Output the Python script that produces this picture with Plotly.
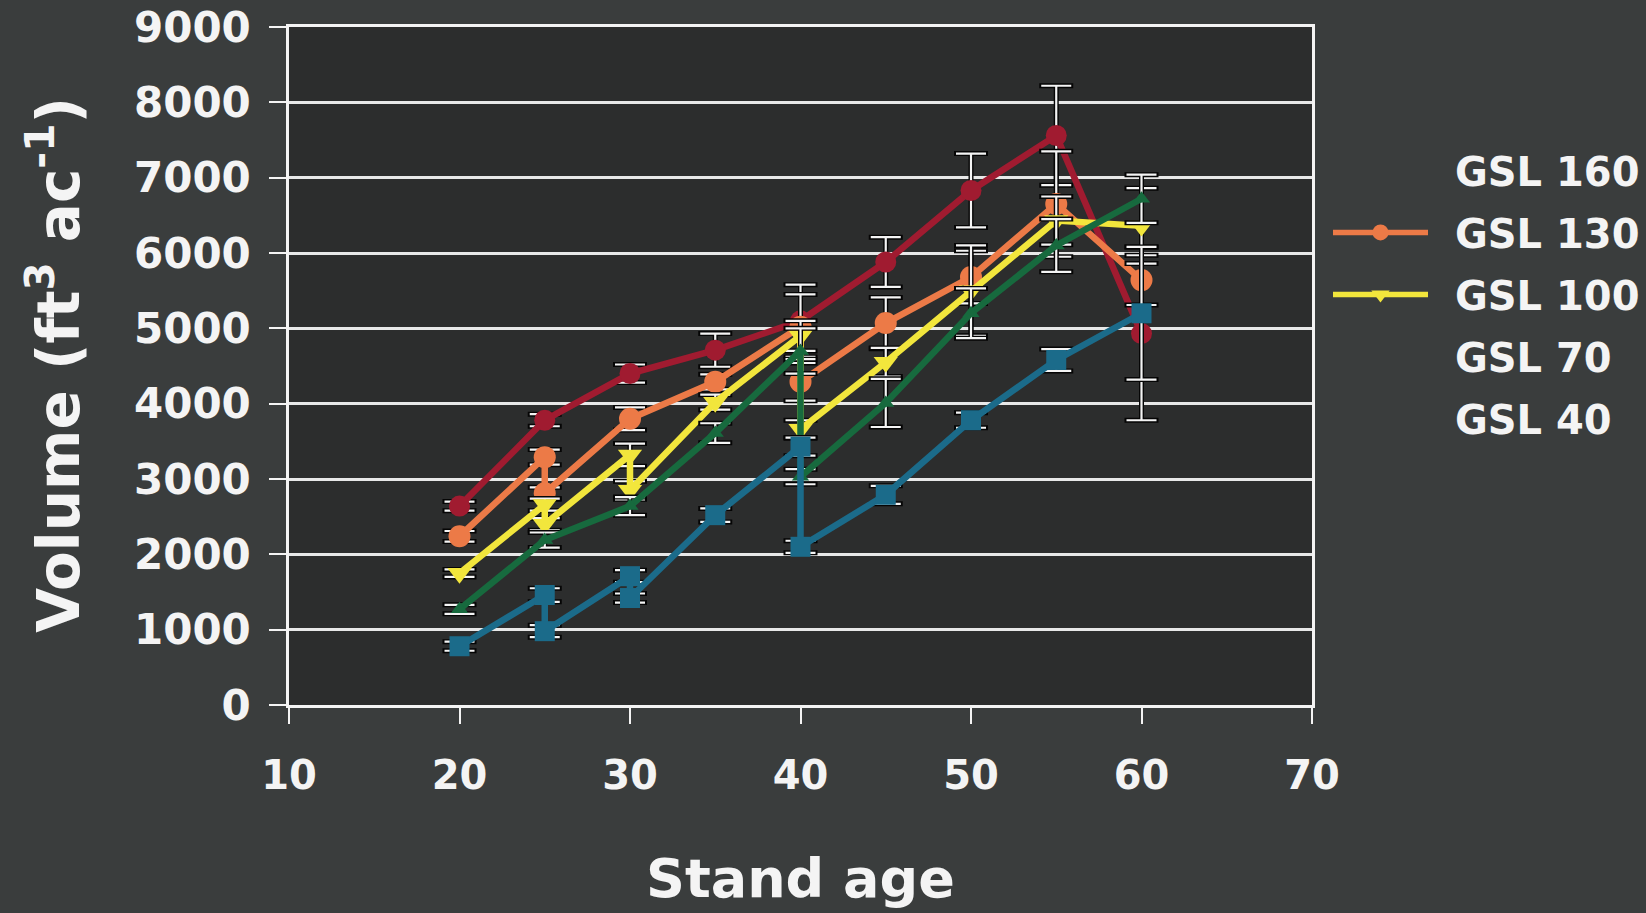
import plotly.graph_objects as go

# ---------------- data ----------------
series_names = ["GSL 160", "GSL 130", "GSL 100", "GSL 70", "GSL 40"]

ages_160 = [20, 25, 30, 35, 40, 45, 50, 55, 60]
vol_160 = [2640, 3780, 4400, 4710, 5100, 5880, 6830, 7560, 4930]
err_160 = [60, 80, 120, 220, 480, 330, 490, 660, 1150]

ages_130 = [20, 25, 25, 30, 35, 40, 40, 45, 50, 55, 60]
vol_130 = [2240, 3290, 2810, 3800, 4290, 5020, 4290, 5070, 5680, 6650, 5640]
err_130 = [70, 100, 80, 150, 100, 430, 250, 340, 350, 700, 330]

ages_100 = [20, 25, 25, 30, 30, 35, 40, 40, 45, 50, 55, 60]
vol_100 = [1750, 2660, 2400, 3320, 2850, 4020, 4900, 3660, 4550, 5500, 6430, 6360]
err_100 = [50, 80, 80, 150, 120, 100, 200, 120, 190, 600, 320, 500]

ages_70 = [20, 25, 30, 35, 40, 40, 45, 50, 55, 60]
vol_70 = [1270, 2190, 2640, 3610, 4700, 3030, 4010, 5200, 6100, 6720]
err_70 = [60, 100, 120, 130, 300, 100, 320, 330, 350, 320]

ages_40 = [20, 25, 25, 30, 30, 35, 40, 40, 45, 50, 55, 60]
vol_40 = [780, 1460, 980, 1710, 1420, 2520, 3430, 2100, 2790, 3780, 4580, 5200]
err_40 = [60, 90, 80, 80, 60, 90, 120, 80, 120, 100, 145, 880]

x_ticks = [10, 20, 30, 40, 50, 60, 70]
y_ticks = [0, 1000, 2000, 3000, 4000, 5000, 6000, 7000, 8000, 9000]

# ---------------- styles ----------------
colors = ["#a01b30", "#ec7a47", "#f2e63c", "#176a3e", "#1b6b8a"]
symbols = ["circle", "circle", "triangle-down", "triangle-up", "square"]
sizes = [21, 22, 21, 15, 20]
legend_symbol_visible = [False, True, True, False, False]

FONT = "DejaVu Sans"
WHITE = "#f4f4f4"

data = [
    (ages_160, vol_160, err_160),
    (ages_130, vol_130, err_130),
    (ages_100, vol_100, err_100),
    (ages_70, vol_70, err_70),
    (ages_40, vol_40, err_40),
]

fig = go.Figure()

for i, (ax, vy, ve) in enumerate(data):
    # dark halo behind the white error bars
    fig.add_trace(go.Scatter(
        x=ax, y=vy, mode="markers",
        marker=dict(color="rgba(0,0,0,0)", size=1),
        error_y=dict(type="data", array=ve, visible=True,
                     color="#050505", thickness=5, width=17),
        showlegend=False, hoverinfo="skip",
    ))
    fig.add_trace(go.Scatter(
        x=ax, y=vy, mode="lines+markers",
        name=series_names[i],
        line=dict(color=colors[i], width=6.5),
        marker=dict(symbol=symbols[i], size=sizes[i], color=colors[i],
                    line=dict(width=0)),
        error_y=dict(type="data", array=ve, visible=True,
                     color=WHITE, thickness=2.2, width=15),
        showlegend=False,
    ))

# legend entries
for i, name in enumerate(series_names):
    c = colors[i] if legend_symbol_visible[i] else "rgba(0,0,0,0)"
    fig.add_trace(go.Scatter(
        x=[None], y=[None], mode="lines+markers", name="\u00a0\u2009" + name,
        legendgroup=name,
        line=dict(color=c, width=5.5),
        marker=dict(symbol=symbols[i], size=16, color=c),
        showlegend=True,
    ))

PLOT_L, PLOT_R, PLOT_T, PLOT_B = 289, 1312, 27, 705.5
W, H = 1646, 913

fig.update_layout(
    width=W, height=H,
    margin=dict(l=PLOT_L, r=W - PLOT_R, t=PLOT_T, b=H - PLOT_B, pad=0, autoexpand=False),
    paper_bgcolor="#3a3d3d",
    plot_bgcolor="#2c2d2d",
    font=dict(family=FONT, color=WHITE),
    xaxis=dict(
        range=[10, 70], tickvals=x_ticks, showgrid=False, zeroline=False,
        showline=True, linecolor=WHITE, linewidth=2.5, mirror=True,
        ticks="outside", ticklen=16, tickwidth=2, tickcolor=WHITE,
        tickfont=dict(family=FONT, size=40, color=WHITE, weight="bold"),
        ticklabelstandoff=17, automargin=False,
    ),
    yaxis=dict(
        range=[0, 9000], tickvals=y_ticks, showgrid=True, gridcolor="#e8e8e8",
        gridwidth=2.5, zeroline=False,
        showline=True, linecolor=WHITE, linewidth=2.5, mirror=True,
        ticks="outside", ticklen=17, tickwidth=2, tickcolor=WHITE,
        tickfont=dict(family=FONT, size=42, color=WHITE, weight="bold"),
        ticklabelstandoff=10, automargin=False,
    ),
    legend=dict(
        x=(1328 - PLOT_L) / (PLOT_R - PLOT_L), xanchor="left",
        y=(PLOT_B - 138) / (PLOT_B - PLOT_T), yanchor="top",
        bgcolor="rgba(0,0,0,0)", borderwidth=0,
        font=dict(family=FONT, size=40, color=WHITE, weight="bold"),
        itemwidth=95, traceorder="grouped", tracegroupgap=7,
    ),
    showlegend=True,
    annotations=[
        dict(text="Stand age", xref="paper", yref="paper",
             x=0.5, y=(PLOT_B - 846) / (PLOT_B - PLOT_T),
             xanchor="center", yanchor="top", showarrow=False,
             font=dict(family=FONT, size=54, color=WHITE, weight="bold")),
        dict(text="Volume (ft<sup>3</sup> ac<sup>-1</sup>)", xref="paper", yref="paper",
             x=(54 - PLOT_L) / (PLOT_R - PLOT_L), y=(PLOT_B - 365) / (PLOT_B - PLOT_T),
             xanchor="center", yanchor="middle", textangle=-90, showarrow=False,
             font=dict(family=FONT, size=58, color=WHITE, weight="bold")),
    ],
)

fig.write_html("out.html")
